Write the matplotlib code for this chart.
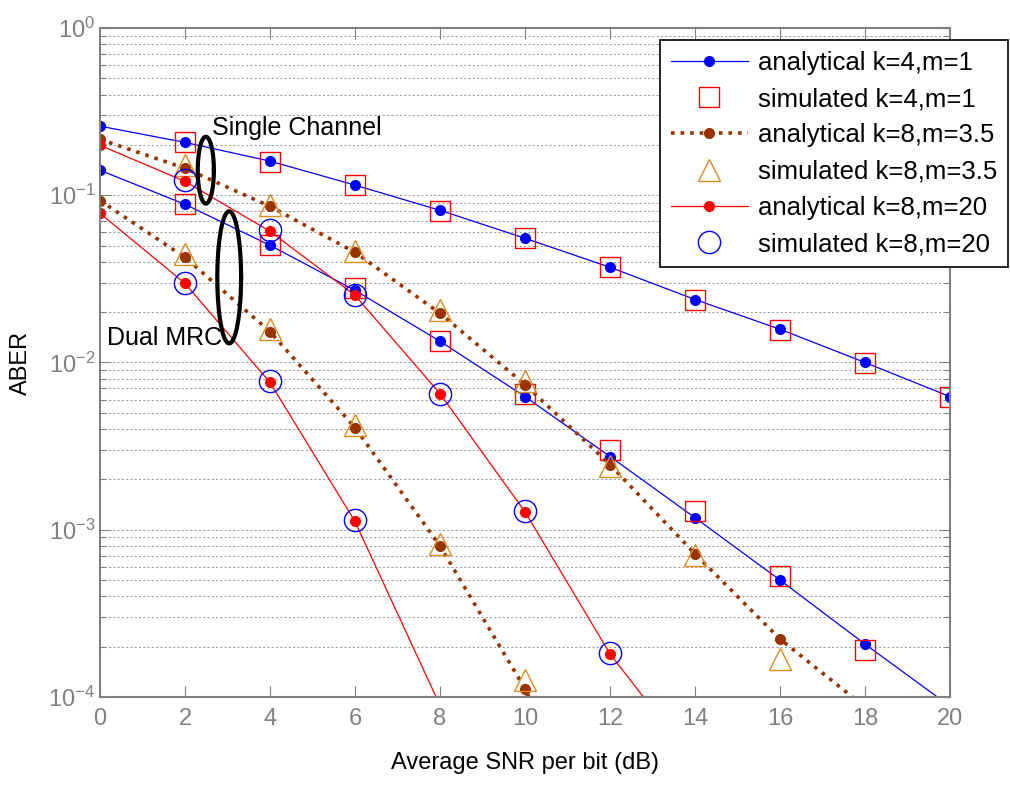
import numpy as np
import matplotlib.pyplot as plt
from matplotlib.ticker import LogLocator, LogFormatterMathtext, NullFormatter, MultipleLocator

plt.rcParams['font.family'] = ['Liberation Sans', 'DejaVu Sans']
plt.rcParams['mathtext.fontset'] = 'custom'
plt.rcParams['mathtext.rm'] = 'Liberation Sans'
plt.rcParams['mathtext.it'] = 'Liberation Sans'

snr = [0, 2, 4, 6, 8, 10, 12, 14, 16, 18, 20]
snr_sim = [2, 4, 6, 8, 10, 12, 14, 16, 18, 20]

# k=4, m=1
ana_41_single = [0.259, 0.207, 0.160, 0.115, 0.0813, 0.0553, 0.0371, 0.0238, 0.0158, 0.0100, 0.00625]
sim_41_single = [0.207, 0.158, 0.115, 0.081, 0.0553, 0.0371, 0.0238, 0.0156, 0.0099, 0.0062]
ana_41_dual = [0.141, 0.0883, 0.0502, 0.027, 0.0134, 0.00625, 0.00274, 0.00118, 0.0005, 0.000207, 8.8e-5]
sim_41_dual = [0.0883, 0.0505, 0.0278, 0.0134, 0.0065, 0.00301, 0.0013, 0.00053, 0.000191]

# k=8, m=3.5
snr_b = [0, 2, 4, 6, 8, 10, 12, 14, 16, 18]
ana_835_single = [0.216, 0.145, 0.0859, 0.0456, 0.0197, 0.00738, 0.00245, 0.000718, 0.000222, 8.7e-5]
sim_835_single = [0.151, 0.088, 0.0465, 0.0205, 0.0077, 0.00241, 0.00071, 0.000169]
snr_bd = [0, 2, 4, 6, 8, 10, 12]
ana_835_dual = [0.093, 0.0425, 0.0153, 0.00408, 0.0008, 0.000112, 1.0e-5]
sim_835_dual = [0.0448, 0.0159, 0.0042, 0.00082, 0.000126]

# k=8, m=20
snr_r = [0, 2, 4, 6, 8, 10, 12, 14]
ana_820_single = [0.199, 0.121, 0.0609, 0.0252, 0.00652, 0.00128, 0.000181, 4.0e-5]
sim_820_single = [0.123, 0.0616, 0.0255, 0.00652, 0.0013, 0.000183]
snr_rd = [0, 2, 4, 6, 8]
ana_820_dual = [0.078, 0.0297, 0.0076, 0.00112, 8.9e-5]
sim_820_dual = [0.0299, 0.0078, 0.00114]

blue = '#0000FF'
red = '#FF0000'
brown = '#993300'
orange = '#E0891E'
gray = '#808080'

fig = plt.figure(figsize=(10.1, 7.87), dpi=100)
ax = fig.add_axes([0.099, 0.1144, 0.8416, 0.85])

l1, = ax.semilogy(snr, ana_41_single, '-', color=blue, lw=0.9, marker='o', ms=7, mfc=blue, mec=blue)
ax.semilogy(snr, ana_41_dual, '-', color=blue, lw=0.9, marker='o', ms=7, mfc=blue, mec=blue)
s1, = ax.semilogy(snr_sim, sim_41_single, 's', color=red, ms=14, mfc='none', mec=red, mew=1.0, ls='none')
ax.semilogy(snr_sim[:len(sim_41_dual)], sim_41_dual, 's', ms=14, mfc='none', mec=red, mew=1.0, ls='none')

l2, = ax.semilogy(snr_b, ana_835_single, ':', color=brown, lw=2.6, marker='o', ms=7, mfc=brown, mec=brown)
ax.semilogy(snr_bd, ana_835_dual, ':', color=brown, lw=2.6, marker='o', ms=7, mfc=brown, mec=brown)
s2, = ax.semilogy(snr_sim[:len(sim_835_single)], sim_835_single, '^', ms=16, mfc='none', mec=orange, mew=1.0, ls='none')
ax.semilogy(snr_sim[:len(sim_835_dual)], sim_835_dual, '^', ms=16, mfc='none', mec=orange, mew=1.0, ls='none')

l3, = ax.semilogy(snr_r, ana_820_single, '-', color=red, lw=0.9, marker='o', ms=7, mfc=red, mec=red)
ax.semilogy(snr_rd, ana_820_dual, '-', color=red, lw=0.9, marker='o', ms=7, mfc=red, mec=red)
s3, = ax.semilogy(snr_sim[:len(sim_820_single)], sim_820_single, 'o', ms=16, mfc='none', mec=blue, mew=1.0, ls='none')
ax.semilogy(snr_sim[:len(sim_820_dual)], sim_820_dual, 'o', ms=16, mfc='none', mec=blue, mew=1.0, ls='none')

# ellipses drawn in log space
t = np.linspace(0, 2 * np.pi, 200)
ax.plot(2.49 + 0.19 * np.cos(t), 10 ** (-0.85 + 0.2 * np.sin(t)), color='black', lw=3)
ax.plot(3.04 + 0.28 * np.cos(t), 10 ** (-1.491 + 0.395 * np.sin(t)), color='black', lw=3)
ax.text(2.63, 0.23, 'Single Channel', fontsize=18, color='black')
ax.text(0.17, 0.0128, 'Dual MRC', fontsize=18, color='black')

ax.set_xlim(0, 20)
ax.set_ylim(1e-4, 1)
ax.xaxis.set_major_locator(MultipleLocator(2))
ax.yaxis.set_major_locator(LogLocator(base=10, numticks=10))
ax.yaxis.set_minor_locator(LogLocator(base=10, subs=np.arange(2, 10), numticks=20))
ax.yaxis.set_major_formatter(LogFormatterMathtext())
ax.yaxis.set_minor_formatter(NullFormatter())
ax.grid(True, which='both', axis='y', linestyle=(0, (2.2, 2.2)), color='#999999', lw=0.7)

for sp in ax.spines.values():
    sp.set_color(gray)
    sp.set_linewidth(1.5)
ax.tick_params(which='both', direction='in', top=True, right=True, colors=gray,
               labelcolor=gray, labelsize=17)
ax.tick_params(which='major', length=8, width=0.8)
ax.tick_params(which='minor', length=4, width=0.8)
ax.tick_params(axis='x', pad=8)

ax.set_xlabel('Average SNR per bit (dB)', fontsize=17, color='black', labelpad=16)
ax.set_ylabel('ABER', fontsize=17, color='black', labelpad=12)

leg = ax.legend([l1, s1, l2, s2, l3, s3],
                ['analytical k=4,m=1', 'simulated k=4,m=1', 'analytical k=8,m=3.5',
                 'simulated k=8,m=3.5', 'analytical k=8,m=20', 'simulated k=8,m=20'],
                loc='upper right', bbox_to_anchor=(1008 / 1010, 1 - 40 / 787),
                bbox_transform=fig.transFigure, fontsize=18.5, handlelength=3.0,
                fancybox=False, framealpha=1, edgecolor='black', borderaxespad=0,
                labelspacing=0.48, handletextpad=0.4, borderpad=0.42)
leg.get_frame().set_linewidth(1.2)

fig.savefig('out.png', dpi=100)
